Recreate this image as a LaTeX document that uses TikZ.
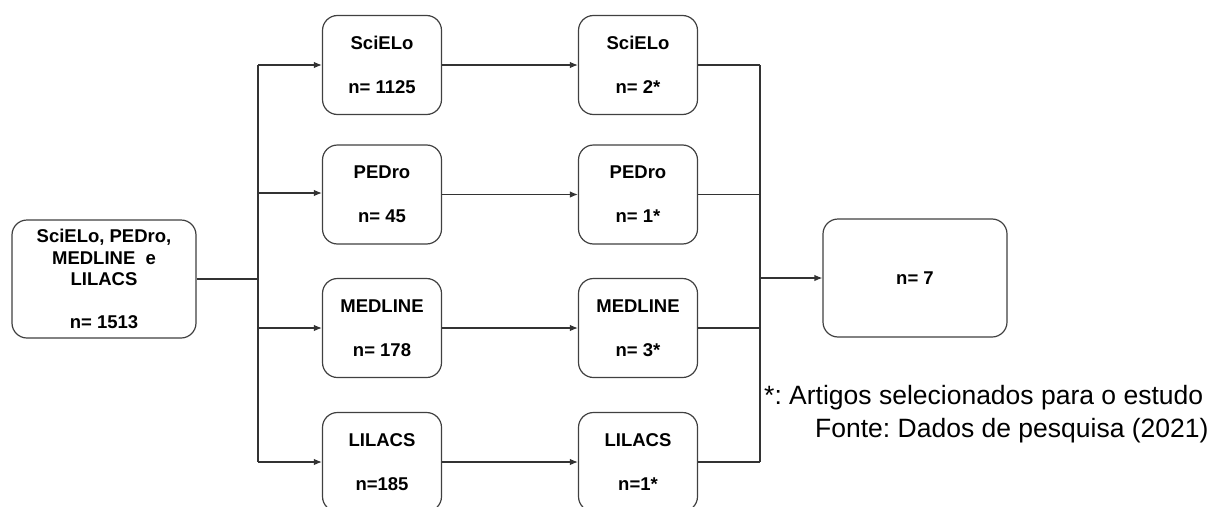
\documentclass[tikz,border=0pt]{standalone}
\usepackage{fontspec}
\setmainfont{Liberation Sans}
\usetikzlibrary{arrows.meta}
\frenchspacing
\begin{document}
\begin{tikzpicture}[x=1pt,y=-1pt,
  box/.style={draw=black!75, line width=1.2pt, rounded corners=15pt, fill=white,
    align=center, font=\fontsize{18.5}{22}\selectfont\bfseries, inner sep=0pt},
  sbox/.style={box, minimum width=119pt, minimum height=99pt},
  bbox/.style={box, minimum width=184pt, minimum height=118pt},
  conn/.style={draw=black!80, line width=1.2pt},
  arr/.style={conn, -{Latex[length=8pt,width=6.5pt]}},
  note/.style={font=\fontsize{26.5}{30}\selectfont, inner sep=0pt, anchor=west}]
\useasboundingbox (0,0) rectangle (1215,506);
\node[bbox, font=\fontsize{18.5}{21.5}\selectfont\bfseries] (src) at (104,279) {SciELo, PEDro,\\MEDLINE \ e\\LILACS\\[21.5pt]n= 1513};
\node[sbox] (a1) at (382,65) {SciELo\\[22pt]n= 1125};
\node[sbox] (a2) at (382,194.5) {PEDro\\[22pt]n= 45};
\node[sbox] (a3) at (382,328) {MEDLINE\\[22pt]n= 178};
\node[sbox] (a4) at (382,462) {LILACS\\[22pt]n=185};
\node[sbox] (b1) at (638,65) {SciELo\\[22pt]n= 2*};
\node[sbox] (b2) at (638,194.5) {PEDro\\[22pt]n= 1*};
\node[sbox] (b3) at (638,328) {MEDLINE\\[22pt]n= 3*};
\node[sbox] (b4) at (638,462) {LILACS\\[22pt]n=1*};
\node[bbox] (res) at (915,278) {n= 7};
\coordinate (s1) at (258,279);
\coordinate (s2) at (760,278);
\draw[conn] (src.east) -- (s1);
\draw[conn] (258,65) -- (258,462);
\foreach \i/\y in {1/65,2/193,3/328,4/462}{
  \draw[arr] (258,\y) -- (a\i.west |- 0,\y);
}
\foreach \i in {1,2,3,4}{
  \draw[arr] (a\i.east) -- (b\i.west);
  \draw[conn] (b\i.east) -- (760,0 |- b\i.east);
}
\draw[conn] (760,65) -- (760,462);
\draw[arr] (s2) -- (res.west);
\node[note] (n1) at (764,398) {*: Artigos selecionados para o estudo};
\node[note] (n2) at (815,431) {Fonte: Dados de pesquisa (2021)};
\end{tikzpicture}
\end{document}
